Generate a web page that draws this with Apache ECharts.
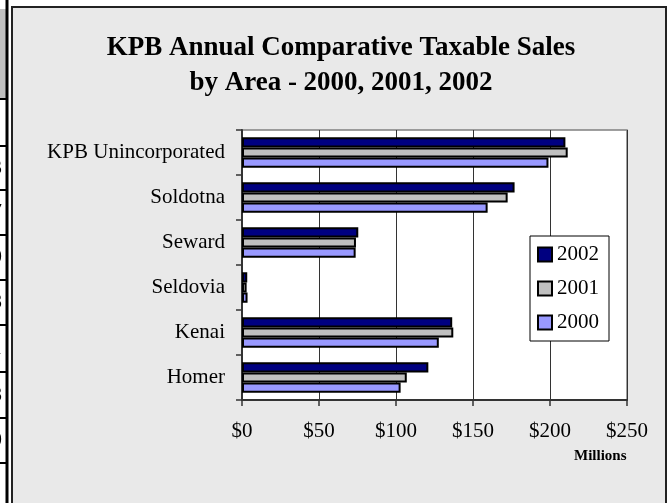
<!DOCTYPE html>
<html>
<head>
<meta charset="utf-8">
<script src="https://cdn.jsdelivr.net/npm/echarts@6/dist/echarts.min.js"></script>
<style>
  html, body { margin: 0; padding: 0; background: #fff; }
  #chart { width: 670px; height: 503px; }
</style>
</head>
<body>
<div id="chart"></div>
<script>
// areas, bottom to top (category axis starts at the bottom)
const areas = ['Homer', 'Kenai', 'Seldovia', 'Seward', 'Soldotna', 'KPB Unincorporated'];
// taxable sales, millions of dollars
const sales2002 = [121, 136.5, 3.4, 75.5, 177, 210];
const sales2001 = [107, 137.2, 3.0, 74, 172.5, 211.5];
const sales2000 = [103, 127.8, 3.6, 73.8, 159.5, 199];
const xTicks = [0, 50, 100, 150, 200, 250];
// cut-off cells of the table at the left edge
const tableLines = [99, 146, 190, 235, 280, 325, 372, 418, 463];
const tableDigits = ['3', '7', '0', '8', '1', '8', '0'];

const serif = '"Liberation Serif", "Times New Roman", serif';
const myChart = echarts.init(document.getElementById('chart'));

const graphics = [
  // chart frame
  { type: 'rect', shape: { x: 12, y: 7, width: 654, height: 500 },
    style: { fill: '#e9e9e9', stroke: '#222', lineWidth: 2 }, z: -10 },
  // table header cell
  { type: 'rect', shape: { x: 0, y: 9, width: 6, height: 90 },
    style: { fill: '#c0c0c0' }, z: -10 },
  { type: 'line', shape: { x1: 7, y1: 0, x2: 7, y2: 503 },
    style: { stroke: '#000', lineWidth: 3 }, z: -9 }
];
tableLines.forEach(y => {
  graphics.push({ type: 'line', shape: { x1: 0, y1: y, x2: 7, y2: y },
    style: { stroke: '#000', lineWidth: 2 }, z: -9 });
});
tableDigits.forEach((d, i) => {
  graphics.push({ type: 'text', x: 2, y: (tableLines[i + 1] + tableLines[i + 2]) / 2,
    style: { text: d, font: '22px ' + serif, fill: '#000', align: 'right', verticalAlign: 'middle' }, z: -9 });
});
graphics.push({ type: 'text', left: 574, top: 449,
  style: { text: 'Millions', font: 'bold 15px ' + serif, fill: '#000' } });

const barStyle = color => ({ color: color, borderColor: '#000', borderWidth: 2 });

myChart.setOption({
  animation: false,
  backgroundColor: '#fff',
  title: {
    text: 'KPB Annual Comparative Taxable Sales\nby Area - 2000, 2001, 2002',
    left: 336,
    textAlign: 'center',
    top: 26,
    textStyle: { fontFamily: serif, fontSize: 27, fontWeight: 'bold', color: '#000', lineHeight: 35 }
  },
  legend: {
    orient: 'vertical',
    left: 530,
    top: 236,
    data: ['2002', '2001', '2000'],
    backgroundColor: '#fff',
    borderColor: '#000',
    borderWidth: 1,
    borderRadius: 0,
    padding: [8, 10, 8, 7],
    itemGap: 13,
    itemWidth: 14,
    itemHeight: 14,
    icon: 'rect',
    textStyle: { fontFamily: serif, fontSize: 21, color: '#000' }
  },
  grid: { left: 242, right: 43, top: 130, bottom: 103, show: true,
    backgroundColor: '#fff', borderColor: '#808080', borderWidth: 1.5 },
  xAxis: {
    type: 'value',
    min: 0, max: 250, interval: 50,
    axisLine: { show: true, lineStyle: { color: '#333', width: 2 } },
    axisTick: { show: true, length: 6, lineStyle: { color: '#333', width: 1.5 } },
    splitLine: { show: true, lineStyle: { color: '#333', width: 1 } },
    axisLabel: { fontFamily: serif, fontSize: 21, color: '#000', margin: 21,
      formatter: v => xTicks.includes(v) ? '$' + v : '' }
  },
  yAxis: {
    type: 'category',
    data: areas,
    axisLine: { show: true, lineStyle: { color: '#333', width: 2 } },
    axisTick: { show: true, length: 6, lineStyle: { color: '#333', width: 1.5 } },
    axisLabel: { fontFamily: serif, fontSize: 21, color: '#000', margin: 17 }
  },
  series: [
    { name: '2002', type: 'bar', data: sales2002, itemStyle: barStyle('#000080'),
      barGap: '0%', barCategoryGap: '32%' },
    { name: '2001', type: 'bar', data: sales2001, itemStyle: barStyle('#c0c0c0') },
    { name: '2000', type: 'bar', data: sales2000, itemStyle: barStyle('#9999ff') }
  ],
  graphic: graphics
});
</script>
</body>
</html>
